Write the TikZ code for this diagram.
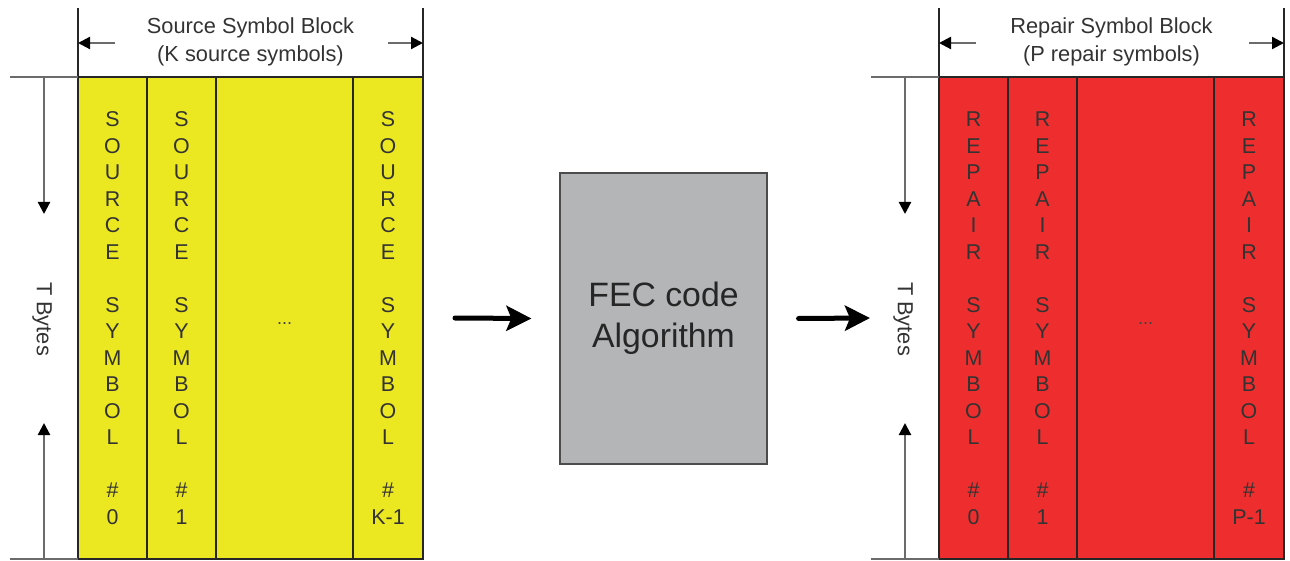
\documentclass[tikz,border=0pt]{standalone}
\usepackage{fontspec}
\setmainfont{Liberation Sans}
\usepackage{xcolor}
\usepackage{tikz}
\usetikzlibrary{arrows.meta,positioning}
\definecolor{srcyellow}{HTML}{EBE721}
\definecolor{repred}{HTML}{EE2E2E}
\definecolor{fecgray}{HTML}{B3B5B6}
\tikzset{
  symcol/.style={draw=black!85, line width=0.6pt, outer sep=0pt, inner sep=0pt, minimum height=241pt, align=center, text=black!80, font=\fontsize{10.7}{13.25}\selectfont},
  srccol/.style={symcol, fill=srcyellow},
  repcol/.style={symcol, fill=repred},
  fecbox/.style={draw=black!70, line width=0.6pt, fill=fecgray, minimum width=103.5pt, minimum height=145.5pt, align=center, text=black!85, font=\fontsize{16.9}{20.5}\selectfont},
  blocklab/.style={align=center, text=black!80, font=\fontsize{10.9}{14}\selectfont},
  guide/.style={draw=black!58, line width=1.1pt},
  dimarrow/.style={guide, -{Triangle[length=6pt,width=6pt,color=black]}},
  bigarrow/.style={line width=2.5pt, line cap=round, -{Stealth[length=12.5pt,width=12.5pt,inset=2.5pt]}},
  dots/.style={text=black!75, font=\fontsize{9}{10}\selectfont},
}
\newcommand{\gap}{\\[13.25pt]}

\begin{document}
\begin{tikzpicture}[x=0.5pt, y=-0.5pt]
\useasboundingbox (0,0) rectangle (1290,561);

% source block, K columns
\node[srccol, minimum width=34.5pt] (s0) at (112.5,318) {S\\O\\U\\R\\C\\E\gap S\\Y\\M\\B\\O\\L\gap \#\\0};
\node[srccol, minimum width=34.5pt, right=0pt of s0] (s1) {S\\O\\U\\R\\C\\E\gap S\\Y\\M\\B\\O\\L\gap \#\\1};
\node[srccol, minimum width=68.5pt, right=0pt of s1] (s2) {};
\node[srccol, minimum width=35pt, right=0pt of s2] (s3) {S\\O\\U\\R\\C\\E\gap S\\Y\\M\\B\\O\\L\gap \#\\K-1};
\node[dots] (sdots) at (s2) {\vphantom{T}...};
\node[blocklab] (slab) at (250.5,42) {Source Symbol Block\\(K source symbols)};
\node[blocklab, rotate=-90] (stb) at (42,319) {T Bytes};

\draw[guide, draw=black!85] (s0.north west) -- ++(0,34.5pt);
\draw[guide, draw=black!85] (s3.north east) -- ++(0,34.5pt);
\draw[dimarrow] ([shift={(18.5pt,17pt)}]s0.north west) -- ([yshift=17pt]s0.north west);
\draw[dimarrow] ([shift={(-17.5pt,17pt)}]s3.north east) -- ([yshift=17pt]s3.north east);
\draw[guide] ([xshift=-34pt]s0.north west) -- (s0.north west);
\draw[guide] ([xshift=-34pt]s0.south west) -- (s0.south west);
\draw[dimarrow] ([xshift=-17pt]s0.north west) -- ++(0,-68.5pt);
\draw[dimarrow] ([xshift=-17pt]s0.south west) -- ++(0,68pt);

% encoder
\node[fecbox] (fec) at (663.5,318.5) {FEC code\\Algorithm};

% repair block, P columns
\node[repcol, minimum width=34.5pt] (r0) at (973.5,318) {R\\E\\P\\A\\I\\R\gap S\\Y\\M\\B\\O\\L\gap \#\\0};
\node[repcol, minimum width=34.5pt, right=0pt of r0] (r1) {R\\E\\P\\A\\I\\R\gap S\\Y\\M\\B\\O\\L\gap \#\\1};
\node[repcol, minimum width=68.5pt, right=0pt of r1] (r2) {};
\node[repcol, minimum width=35pt, right=0pt of r2] (r3) {R\\E\\P\\A\\I\\R\gap S\\Y\\M\\B\\O\\L\gap \#\\P-1};
\node[dots] (rdots) at (r2) {\vphantom{T}...};
\node[blocklab] (rlab) at (1111.5,42) {Repair Symbol Block\\(P repair symbols)};
\node[blocklab, rotate=-90] (rtb) at (903,319) {T Bytes};

\draw[guide, draw=black!85] (r0.north west) -- ++(0,34.5pt);
\draw[guide, draw=black!85] (r3.north east) -- ++(0,34.5pt);
\draw[dimarrow] ([shift={(18.5pt,17pt)}]r0.north west) -- ([yshift=17pt]r0.north west);
\draw[dimarrow] ([shift={(-17.5pt,17pt)}]r3.north east) -- ([yshift=17pt]r3.north east);
\draw[guide] ([xshift=-34pt]r0.north west) -- (r0.north west);
\draw[guide] ([xshift=-34pt]r0.south west) -- (r0.south west);
\draw[dimarrow] ([xshift=-17pt]r0.north west) -- ++(0,-68.5pt);
\draw[dimarrow] ([xshift=-17pt]r0.south west) -- ++(0,68pt);

\draw[bigarrow] ([xshift=16pt]s3.east) -- ([xshift=-14pt]fec.west);
\draw[bigarrow] ([xshift=15.5pt]fec.east) -- ([xshift=-34.5pt]r0.west);
\end{tikzpicture}
\end{document}
